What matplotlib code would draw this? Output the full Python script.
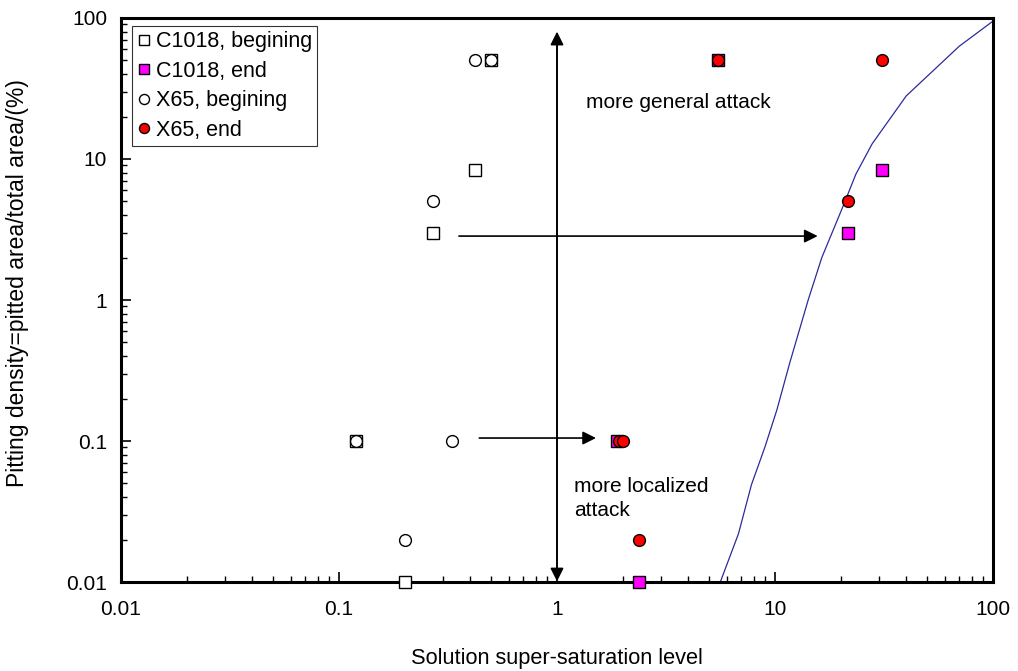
import matplotlib
matplotlib.use("Agg")
import matplotlib.pyplot as plt
from matplotlib.ticker import LogLocator, NullFormatter, FixedLocator, FixedFormatter

plt.rcParams['font.family'] = ['Liberation Sans', 'DejaVu Sans']

# Data
c1018_begin_x = [0.5, 0.42, 0.27, 0.12, 0.2]
c1018_begin_y = [50, 8.3, 3, 0.1, 0.01]
c1018_end_x = [5.5, 31, 21.6, 1.88, 2.38]
c1018_end_y = [50, 8.3, 3, 0.1, 0.01]
x65_begin_x = [0.42, 0.5, 0.27, 0.12, 0.33, 0.2]
x65_begin_y = [50, 50, 5, 0.1, 0.1, 0.02]
x65_end_x = [5.5, 31, 21.6, 1.93, 2.0, 2.38]
x65_end_y = [50, 50, 5, 0.1, 0.1, 0.02]
curve_x = [5.5, 6.8, 7.8, 9.0, 10.2, 11.7, 14.2, 16.4, 20.5, 23.5, 27.9, 40, 70, 100]
curve_y = [0.0092, 0.022, 0.049, 0.091, 0.166, 0.36, 1.0, 2.0, 4.6, 7.8, 12.8, 28, 63, 95]

tick_vals = [0.01, 0.1, 1, 10, 100]
tick_labels = ['0.01', '0.1', '1', '10', '100']

fig = plt.figure(figsize=(10.18, 6.71), dpi=100)
ax = fig.add_axes([0.1189, 0.1326, 0.9754 - 0.1189, 0.9732 - 0.1326])
ax.set_xscale('log')
ax.set_yscale('log')
ax.set_xlim(0.01, 100)
ax.set_ylim(0.01, 100)

ax.plot(curve_x, curve_y, color='#2b2b9c', lw=0.9, zorder=2)

ms = 8.5
ax.plot(c1018_begin_x, c1018_begin_y, 's', ms=ms, mfc='white', mec='black', mew=1.0, ls='none',
        label='C1018, begining', zorder=3, clip_on=False)
ax.plot(c1018_end_x, c1018_end_y, 's', ms=ms, mfc='#ff00ff', mec='black', mew=1.0, ls='none',
        label='C1018, end', zorder=3, clip_on=False)
ax.plot(x65_begin_x, x65_begin_y, 'o', ms=ms, mfc='white', mec='black', mew=1.0, ls='none',
        label='X65, begining', zorder=4, clip_on=False)
ax.plot(x65_end_x, x65_end_y, 'o', ms=ms, mfc='#ff0000', mec='black', mew=1.0, ls='none',
        label='X65, end', zorder=4, clip_on=False)

# Arrows
akw = dict(arrowstyle='-|>', color='black', lw=1.2, mutation_scale=20, shrinkA=0, shrinkB=0)
ax.annotate('', xy=(1, 80), xytext=(1, 0.0105), arrowprops=akw, zorder=1)
ax.annotate('', xy=(1, 0.0101), xytext=(1, 70), arrowprops=akw, zorder=1)
ax.annotate('', xy=(15.7, 2.84), xytext=(0.355, 2.84), arrowprops=akw)
ax.annotate('', xy=(1.51, 0.105), xytext=(0.44, 0.105), arrowprops=akw)

ax.text(1.36, 25, 'more general attack', fontsize=15, ha='left', va='center')
ax.text(1.2, 0.039, 'more localized\nattack', fontsize=15, ha='left', va='center', linespacing=1.3)

ax.xaxis.set_major_locator(FixedLocator(tick_vals))
ax.xaxis.set_major_formatter(FixedFormatter(tick_labels))
ax.yaxis.set_major_locator(FixedLocator(tick_vals))
ax.yaxis.set_major_formatter(FixedFormatter(tick_labels))
ax.xaxis.set_minor_locator(LogLocator(base=10, subs=range(2, 10)))
ax.yaxis.set_minor_locator(LogLocator(base=10, subs=range(2, 10)))
ax.xaxis.set_minor_formatter(NullFormatter())
ax.yaxis.set_minor_formatter(NullFormatter())

ax.tick_params(which='major', direction='in', length=7, width=1.2, labelsize=15, top=False, right=False)
ax.tick_params(which='minor', direction='in', length=4, width=1.0, top=False, right=False)
ax.tick_params(axis='x', which='major', pad=13)
ax.tick_params(axis='y', which='major', pad=10)

for s in ax.spines.values():
    s.set_linewidth(2.2)
    s.set_color('black')

ax.set_xlabel('Solution super-saturation level', fontsize=15.7, labelpad=21)
ax.set_ylabel('Pitting density=pitted area/total area/(%)', fontsize=16.5)
ax.yaxis.set_label_coords(-0.106, 0.530)

leg = ax.legend(loc='upper left', bbox_to_anchor=(0.013, 0.985), fontsize=15.5, frameon=True,
                fancybox=False, edgecolor='black', handlelength=0.6, handletextpad=0.3,
                borderpad=0.22, labelspacing=0.4, markerscale=0.85, borderaxespad=0)
leg.get_frame().set_linewidth(0.8)

fig.savefig('out.png', dpi=100)
